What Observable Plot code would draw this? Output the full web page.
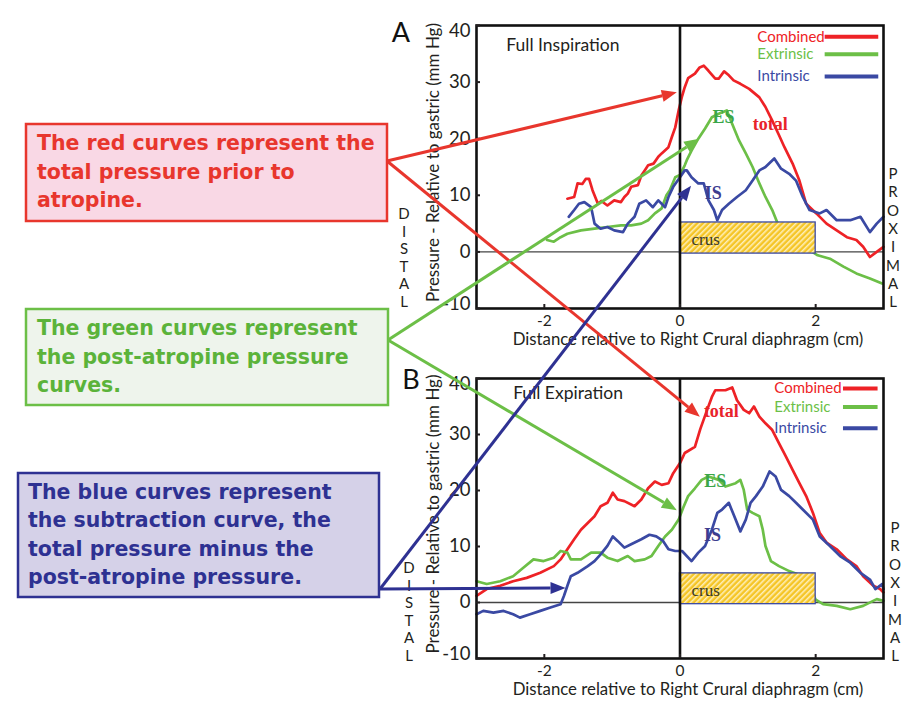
<!DOCTYPE html>
<html><head><meta charset="utf-8">
<script src="https://cdn.jsdelivr.net/npm/d3@7"></script>
<script src="https://cdn.jsdelivr.net/npm/@observablehq/plot@0.6"></script>
<style>
body{margin:0;background:#fff;}
#wrap{position:relative;width:924px;height:719px;overflow:hidden;font-family:Lato,sans-serif;background:#fff;}
#wrap svg{position:absolute;left:0;}
</style></head><body><div id="wrap"></div>
<script>
// ---------- data ----------
const xTicks = [-2, 0, 2];
const yTicks = [-10, 0, 10, 20, 30, 40];
const seriesNames = ["Combined", "Extrinsic", "Intrinsic"];
const seriesColors = ["#ee2226", "#6cbf47", "#3a49a3"];
const panelTitles = ["Full Inspiration", "Full Expiration"];
const panelLetters = ["A", "B"];
const yLabel = "Pressure - Relative to gastric (mm Hg)";
const xLabel = "Distance relative to Right Crural diaphragm (cm)";
const distalLetters = ["D", "I", "S", "T", "A", "L"];
const proximalLetters = ["P", "R", "O", "X", "I", "M", "A", "L"];
const crusRange = {x: [0, 2], y: [-0.3, 5.2]};

// Panel A: full inspiration  [distance cm, pressure mmHg]
const inspCombined = [[-1.66,9.4],[-1.56,9.7],[-1.51,12.1],[-1.44,12],[-1.39,12.9],[-1.34,12.9],[-1.29,10.9],[-1.21,8.5],[-1.16,9],[-1.07,8.2],[-0.97,9.1],[-0.87,8.8],[-0.82,9.7],[-0.77,10.3],[-0.72,11.5],[-0.62,11.8],[-0.57,13.5],[-0.52,14.4],[-0.47,15.3],[-0.39,15.6],[-0.32,16.8],[-0.27,17.4],[-0.17,18.5],[-0.12,20.3],[-0.07,22],[-0.02,25],[0.03,27.5],[0.07,29.1],[0.12,30.7],[0.22,31.5],[0.29,32.6],[0.35,32.9],[0.42,32],[0.52,30.6],[0.57,30.6],[0.65,31.9],[0.72,31.2],[0.79,30.3],[0.89,29.7],[1.02,28.8],[1.17,27.3],[1.26,25.6],[1.36,23.2],[1.46,20.6],[1.54,18.5],[1.66,15.6],[1.76,12.6],[1.86,8.5],[2.01,6.8],[2.16,5],[2.31,3.8],[2.46,2.6],[2.6,2.1],[2.7,0.9],[2.8,-0.9],[2.9,0],[3,0.9]];
const inspExtrinsic = [[-1.96,2.1],[-1.86,1.8],[-1.76,2.6],[-1.66,3.2],[-1.46,3.8],[-1.26,4.1],[-1.07,4.4],[-0.87,4.7],[-0.72,4.7],[-0.57,5],[-0.47,5.6],[-0.37,6.8],[-0.27,7.7],[-0.2,10],[-0.15,10.9],[-0.07,13.2],[0,13.6],[0.07,15.3],[0.1,16.2],[0.17,17.9],[0.27,20],[0.37,21.8],[0.47,23.8],[0.57,24.4],[0.69,25],[0.77,22.6],[0.87,19.7],[0.97,17.4],[1.07,15],[1.17,12.1],[1.26,9.7],[1.36,7.4],[1.44,5],[1.6,2.5],[1.8,0.8],[1.95,0],[2.03,-0.6],[2.21,-1.2],[2.41,-2.6],[2.6,-3.8],[2.8,-4.7],[2.98,-5.6]];
const inspIntrinsic = [[-1.64,6.2],[-1.56,7.4],[-1.49,8.5],[-1.41,8.8],[-1.31,7.9],[-1.26,5],[-1.17,4.1],[-1.07,4.4],[-0.97,3.8],[-0.84,3.5],[-0.77,5],[-0.67,6.2],[-0.6,8.5],[-0.5,9.1],[-0.4,7.9],[-0.32,9.1],[-0.22,7.9],[-0.17,9.7],[-0.1,11.5],[0,13.2],[0.07,14.4],[0.1,14.4],[0.17,13.2],[0.27,12.1],[0.35,12.1],[0.42,9.1],[0.5,7.4],[0.55,5.6],[0.62,7.4],[0.72,8.5],[0.84,9.7],[0.97,10.9],[1.07,12.6],[1.17,14.4],[1.26,15],[1.39,16.5],[1.49,14.7],[1.61,13.8],[1.71,12.6],[1.81,9.7],[1.91,7.4],[2.06,6.8],[2.16,7.4],[2.31,5.6],[2.51,5.6],[2.66,6.2],[2.8,3.5],[2.9,5],[3,6.2]];

// Panel B: full expiration
const expCombined = [[-3,1.2],[-2.85,2.4],[-2.65,3],[-2.46,3.8],[-2.26,4.4],[-2.06,5.3],[-1.86,6.5],[-1.76,7.7],[-1.66,9.5],[-1.56,11.3],[-1.46,13],[-1.36,14.2],[-1.26,15.4],[-1.17,17.2],[-1.07,17.8],[-0.99,19.6],[-0.92,18.4],[-0.82,18.1],[-0.67,17.2],[-0.57,18.4],[-0.47,20.4],[-0.37,21.6],[-0.27,21],[-0.17,21.3],[-0.1,23.1],[0,24.9],[0.07,26.7],[0.22,27.8],[0.3,31],[0.4,34.4],[0.47,36.7],[0.52,37.9],[0.67,37.9],[0.77,38.4],[0.84,36.1],[0.94,34.4],[1.02,33.8],[1.09,35],[1.17,33.2],[1.26,32],[1.36,30.8],[1.46,28.4],[1.56,26.1],[1.66,23.7],[1.76,21.3],[1.86,19],[1.96,16],[2.06,12.4],[2.16,10.7],[2.31,9.5],[2.46,7.7],[2.6,6.5],[2.7,4.7],[2.85,3],[2.95,2.4],[3,1.8]];
const expExtrinsic = [[-3,3.8],[-2.85,3.3],[-2.65,3.8],[-2.46,4.7],[-2.31,6.2],[-2.16,7.7],[-2.01,7.4],[-1.86,8],[-1.76,9.2],[-1.66,8.9],[-1.61,7.7],[-1.46,7.7],[-1.31,8.9],[-1.17,8.9],[-1.07,8],[-0.92,7.4],[-0.77,8.3],[-0.67,7.4],[-0.52,7.7],[-0.42,8.3],[-0.32,10.1],[-0.22,11.8],[-0.12,13],[-0.02,14.8],[0.05,17],[0.12,19],[0.22,20.4],[0.32,21.9],[0.42,22.5],[0.57,21.9],[0.67,20.7],[0.82,21.3],[0.89,21.9],[0.94,20.1],[0.99,16.6],[1.07,16],[1.17,15.4],[1.22,13],[1.26,10.1],[1.34,7.4],[1.46,6.5],[1.61,5.6],[1.81,4.7],[1.9,3],[2,0.5],[2.11,-0.3],[2.31,-0.6],[2.51,-1.2],[2.7,-0.6],[2.9,0.6],[3,0.3]];
const expIntrinsic = [[-3,-2.1],[-2.9,-1.5],[-2.75,-1.8],[-2.6,-1.5],[-2.46,-2.1],[-2.36,-2.7],[-2.21,-2.1],[-2.06,-1.5],[-1.91,-0.9],[-1.76,-0.3],[-1.71,1.2],[-1.66,3],[-1.61,4.7],[-1.51,5.3],[-1.36,6.5],[-1.26,7.4],[-1.17,8.6],[-1.07,10.1],[-0.99,11.8],[-0.92,11],[-0.82,9.8],[-0.72,10.4],[-0.57,11.3],[-0.45,12.1],[-0.35,11.8],[-0.25,11],[-0.17,9.5],[-0.07,9.2],[0.03,9.2],[0.17,7.4],[0.27,8.9],[0.37,10.1],[0.47,13],[0.55,16],[0.62,16.6],[0.72,17.8],[0.79,15.7],[0.89,12.7],[0.97,14.8],[1.04,17.8],[1.12,19],[1.22,20.7],[1.32,23.4],[1.41,22.5],[1.49,20.1],[1.61,19],[1.71,17.8],[1.81,16.6],[1.96,14.8],[2.06,11.8],[2.21,10.1],[2.36,8.3],[2.51,7.1],[2.66,5.3],[2.8,4.1],[2.88,2.4],[2.98,3.3],[3,2.4]];

// curve annotations [text, x, y]
const inspCurveLabels = [["ES", 0.64, 23.8], ["total", 1.33, 22.6], ["IS", 0.49, 10.4]];
const expCurveLabels = [["total", 0.61, 34.1], ["ES", 0.52, 21.6], ["IS", 0.48, 12.1]];
const curveLabelColors = {"ES": "#3aa64a", "total": "#e8232a", "IS": "#3d3d8f"};

// explanatory notes
const noteLines = [
  ["The red curves represent the", "total pressure prior to", "atropine."],
  ["The green curves represent", "the post-atropine pressure", "curves."],
  ["The blue curves represent", "the subtraction curve, the", "total pressure minus the", "post-atropine pressure."]
];
const noteStroke = ["#e8362d", "#6cbf47", "#2e3192"];
const noteFill = ["#f9d8e5", "#eef4ec", "#d5d1e8"];
const noteText = ["#e8362d", "#5bb33a", "#2e3192"];
// arrow targets in data space: [note index, panel index, x, y]
const arrowTargets = [[0, 0, -0.04, 28.1], [0, 1, 0.30, 33.1], [1, 0, 0.29, 19.9], [1, 1, -0.04, 16.4], [2, 0, 0.17, 11.6], [2, 1, -1.68, 2.5]];

// ---------- charts ----------
const panels = [
  {top: 0, height: 353, mb: 45, lines: [inspCombined, inspExtrinsic, inspIntrinsic], labels: inspCurveLabels, legX: 1.14, legLine: [2.14, 2.93], legY: [38, 34.9, 31], title: [-2.56, 36.5]},
  {top: 353, height: 366, mb: 61, lines: [expCombined, expExtrinsic, expIntrinsic], labels: expCurveLabels, legX: 1.39, legLine: [2.41, 2.92], legY: [38.2, 34.9, 31.1], title: [-2.46, 37.4]}
];

const wrap = d3.select("#wrap");
const yMin = d3.min(yTicks), yMax = d3.max(yTicks);
const charts = panels.map((p, pi) => {
  const pid = "hatch" + pi;
  const defs = () => {
    const g = d3.create("svg:defs");
    const pat = g.append("pattern").attr("id", pid).attr("patternUnits", "userSpaceOnUse")
      .attr("width", 4).attr("height", 4).attr("patternTransform", "rotate(45)");
    pat.append("rect").attr("width", 4).attr("height", 4).attr("fill", "#f5c526");
    pat.append("line").attr("x1", 0.8).attr("y1", 0).attr("x2", 0.8).attr("y2", 4).attr("stroke", "#fff4c8").attr("stroke-width", 1.4);
    return g.node();
  };
  const yTxt = {frameAnchor: "left", lineAnchor: "middle", y: d => d, text: d => String(d), textAnchor: "end", dx: -6, fontSize: 18.5, fill: "#231f20"};
  const chart = Plot.plot({
    width: 924, height: p.height,
    marginLeft: 476, marginRight: 41, marginTop: 25, marginBottom: p.mb,
    x: {domain: [-3, 3]},
    y: {domain: [yMin, yMax]},
    style: {fontFamily: "Lato, sans-serif", background: "transparent", color: "#231f20", overflow: "visible"},
    marks: [
      defs,
      Plot.ruleY([0], {stroke: "#444", strokeWidth: 1.3}),
      ...p.lines.map((d, i) => Plot.line(d, {x: d => d[0], y: d => d[1], stroke: seriesColors[i], strokeWidth: 2.7, strokeLinejoin: "round"})),
      Plot.rect([crusRange], {x1: d => d.x[0], x2: d => d.x[1], y1: d => d.y[0], y2: d => d.y[1], fill: `url(#${pid})`, stroke: "#3a49a3", strokeWidth: 1.3}),
      Plot.text(["crus"], {x: 0.17, y: 2.2, text: d => d, textAnchor: "start", fontFamily: "Liberation Serif, serif", fontSize: 17, fill: "#3a3a2a"}),
      Plot.ruleX([0], {stroke: "#111", strokeWidth: 2.6}),
      Plot.frame({stroke: "#111", strokeWidth: 2.6}),
      Plot.axisY({ticks: yTicks, tickFormat: () => "", tickSize: -4, label: null, strokeWidth: 2}),
      Plot.axisX({ticks: xTicks, tickFormat: () => "", tickSize: -4, label: null, strokeWidth: 2}),
      Plot.text(yTicks.filter(d => d > yMin && d < yMax), yTxt),
      Plot.text([yMax], {...yTxt, dy: 6}),
      Plot.text([yMin], {...yTxt, dy: -4}),
      Plot.text(xTicks, {frameAnchor: "bottom", lineAnchor: "middle", x: d => d, text: d => String(d), dy: 13, fontSize: 15.5, fill: "#231f20"}),
      Plot.text([xLabel], {frameAnchor: "bottom", lineAnchor: "middle", dx: 8, dy: 31, text: d => d, fontSize: 16.8, fill: "#231f20"}),
      Plot.text([panelTitles[pi]], {x: p.title[0], y: p.title[1], text: d => d, textAnchor: "start", fontSize: 17.5, fill: "#231f20"}),
      ...p.labels.map(l => Plot.text([l[0]], {x: l[1], y: l[2], text: d => d, fontFamily: "Liberation Serif, serif", fontWeight: "bold", fontSize: 18, fill: curveLabelColors[l[0]]})),
      ...seriesNames.map((n, i) => Plot.text([n], {x: p.legX, y: p.legY[i], text: d => d, textAnchor: "start", fontSize: 15, fill: seriesColors[i]})),
      ...seriesNames.map((n, i) => Plot.ruleY([p.legY[i]], {x1: p.legLine[0], x2: p.legLine[1], stroke: seriesColors[i], strokeWidth: 4}))
    ]
  });
  d3.select(chart).style("top", p.top + "px");
  wrap.node().appendChild(chart);
  return chart;
});

// ---------- overlay: side labels, notes, arrows ----------
const ov = wrap.append("svg").attr("width", 924).attr("height", 719).style("top", "0px").style("pointer-events", "none");
panels.forEach((p, pi) => {
  const sy = charts[pi].scale("y"), sx = charts[pi].scale("x");
  const yTop = p.top + sy.apply(yMax), yBot = p.top + sy.apply(yMin), xL = sx.apply(-3), xR = sx.apply(3);
  const yMid = (yTop + yBot) / 2;
  ov.append("text").attr("x", xL - 44).attr("y", yMid - 4).attr("transform", `rotate(-90 ${xL - 44} ${yMid - 4})`)
    .attr("text-anchor", "middle").attr("dominant-baseline", "central").attr("font-size", 17).attr("fill", "#231f20").text(yLabel);
  ov.append("text").attr("x", pi === 0 ? xL - 75 : xL - 65).attr("y", yTop + (pi === 0 ? 17 : 11)).attr("text-anchor", "middle")
    .attr("font-size", 27).attr("fill", "#111").text(panelLetters[pi]);
  distalLetters.forEach((c, i) => ov.append("text").attr("x", xL - (pi === 0 ? 72 : 67)).attr("y", yTop + (pi === 0 ? 194 : 195) + i * 17.6)
    .attr("text-anchor", "middle").attr("font-size", 15).attr("fill", "#231f20").text(c));
  proximalLetters.forEach((c, i) => ov.append("text").attr("x", xR + (pi === 0 ? 10 : 12)).attr("y", yTop + (pi === 0 ? 154 : 155) + i * 18.3)
    .attr("text-anchor", "middle").attr("font-size", 15).attr("fill", "#231f20").text(c));
});

const boxes = [
  {x: 26, y: 124, w: 361, h: 97, tx: 37, ty: 150, lh: 28.5, ax: 387, ay: 161},
  {x: 26, y: 309, w: 362, h: 96, tx: 37, ty: 335, lh: 28.5, ax: 388, ay: 340},
  {x: 18, y: 473, w: 361, h: 124, tx: 28, ty: 499, lh: 28.3, ax: 380, ay: 589}
];
boxes.forEach((b, i) => {
  ov.append("rect").attr("x", b.x).attr("y", b.y).attr("width", b.w).attr("height", b.h)
    .attr("fill", noteFill[i]).attr("stroke", noteStroke[i]).attr("stroke-width", 2.5);
  noteLines[i].forEach((t, j) => ov.append("text").attr("x", b.tx).attr("y", b.ty + j * b.lh)
    .attr("font-family", "DejaVu Sans, sans-serif").attr("font-weight", "bold").attr("font-size", 20.5)
    .attr("fill", noteText[i]).text(t));
});
function arrow(x0, y0, x1, y1, color) {
  const a = Math.atan2(y1 - y0, x1 - x0), L = 15, W = 6;
  const bx = x1 - L * Math.cos(a), by = y1 - L * Math.sin(a);
  ov.append("line").attr("x1", x0).attr("y1", y0).attr("x2", bx).attr("y2", by).attr("stroke", color).attr("stroke-width", 3);
  ov.append("path").attr("d", `M${x1},${y1}L${bx - W * Math.sin(a)},${by + W * Math.cos(a)}L${bx + W * Math.sin(a)},${by - W * Math.cos(a)}Z`).attr("fill", color);
}
arrowTargets.forEach(([ni, pi, x, y]) => {
  const c = charts[pi];
  arrow(boxes[ni].ax, boxes[ni].ay, c.scale("x").apply(x), panels[pi].top + c.scale("y").apply(y), noteStroke[ni]);
});
</script></body></html>
